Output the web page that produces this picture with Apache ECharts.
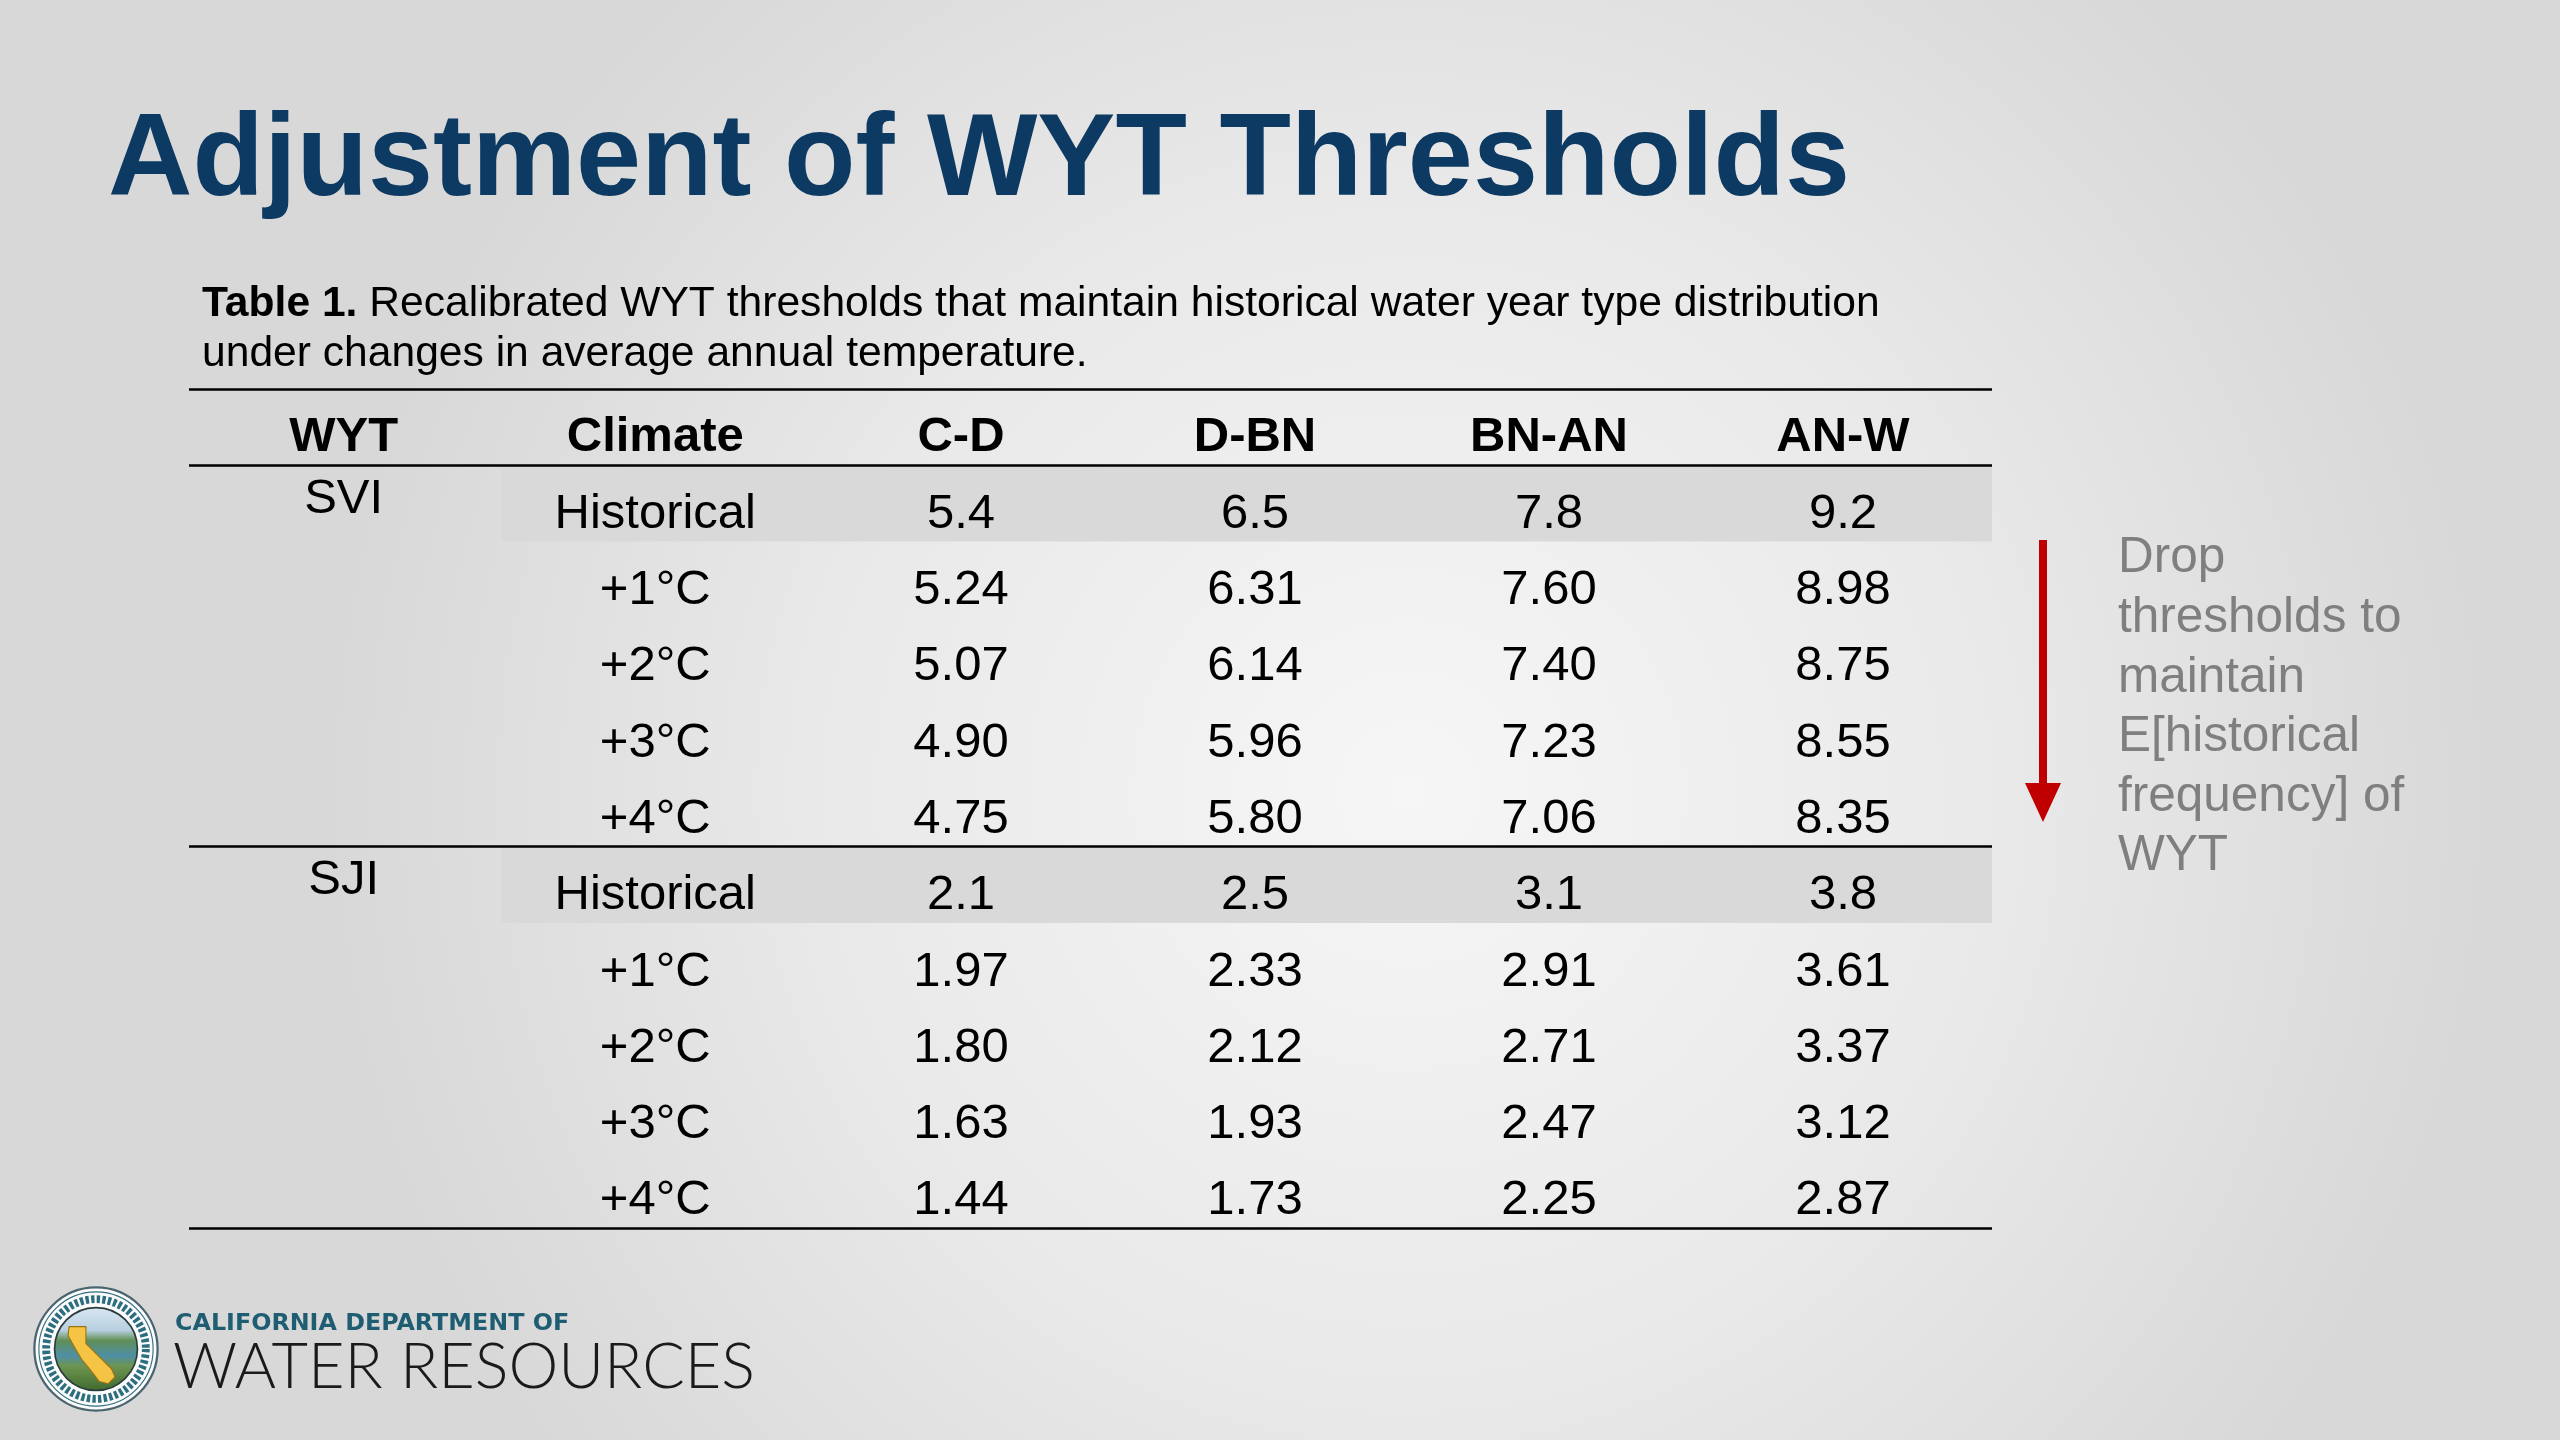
<!DOCTYPE html>
<html>
<head>
<meta charset="utf-8">
<title>Adjustment of WYT Thresholds</title>
<script src="https://cdn.jsdelivr.net/npm/echarts@6.0.0/dist/echarts.min.js"></script>
<style>
  html, body { margin: 0; padding: 0; background: #e8e8e8; }
  #main { width: 2560px; height: 1440px; }
</style>
</head>
<body>
<div id="main"></div>
<script>
// table content
var columns = ['WYT', 'Climate', 'C-D', 'D-BN', 'BN-AN', 'AN-W'];
var indices = ['SVI', 'SJI'];
var climates = ['Historical', '+1°C', '+2°C', '+3°C', '+4°C'];
var sviThresholds = [
    ['5.4', '6.5', '7.8', '9.2'],
    ['5.24', '6.31', '7.60', '8.98'],
    ['5.07', '6.14', '7.40', '8.75'],
    ['4.90', '5.96', '7.23', '8.55'],
    ['4.75', '5.80', '7.06', '8.35']
];
var sjiThresholds = [
    ['2.1', '2.5', '3.1', '3.8'],
    ['1.97', '2.33', '2.91', '3.61'],
    ['1.80', '2.12', '2.71', '3.37'],
    ['1.63', '1.93', '2.47', '3.12'],
    ['1.44', '1.73', '2.25', '2.87']
];
var noteLines = ['Drop', 'thresholds to', 'maintain', 'E[historical', 'frequency] of', 'WYT'];

var FONT = "'Liberation Sans', Arial, sans-serif";
var tables = [sviThresholds, sjiThresholds];

// the first two columns sit a bit left of an even grid
var colShift = [-0.1, -0.04, 0, 0, 0, 0];
var bandStart = 0.935;

// build the cells: header row 0, then 5 rows per index
var cells = [];
var i, g, r, j;
for (i = 0; i < columns.length; i++) {
    cells.push({ col: i + 0.5 + colShift[i], row: 0.5, text: columns[i], bold: true, dy: 10 });
}
for (g = 0; g < indices.length; g++) {
    var base = 1 + g * climates.length;
    cells.push({ col: 0.5 + colShift[0], row: base + 0.5, text: indices[g], bold: false, dy: -4 });
    for (r = 0; r < climates.length; r++) {
        cells.push({ col: 1.5 + colShift[1], row: base + r + 0.5, text: climates[r], bold: false, dy: 11 });
        for (j = 0; j < tables[g][r].length; j++) {
            cells.push({ col: 2.5 + j + colShift[2 + j], row: base + r + 0.5, text: tables[g][r][j], bold: false, dy: 11 });
        }
    }
}
// shaded "Historical" rows
var bandRows = [];
for (g = 0; g < indices.length; g++) {
    bandRows.push([bandStart, 1 + g * climates.length]);
}
// horizontal rules: top, under header, between indices, bottom
var rules = [0, 1];
for (g = 1; g <= indices.length; g++) {
    rules.push(1 + g * climates.length);
}

var chart = echarts.init(document.getElementById('main'));

var option = {
    backgroundColor: 'transparent',
    animation: false,
    title: {
        text: 'Adjustment of WYT Thresholds',
        left: 103,
        top: 99,
        textStyle: {
            fontFamily: FONT,
            fontSize: 117,
            fontWeight: 'bold',
            lineHeight: 117,
            color: '#0c3a62'
        }
    },
    grid: {
        left: 189,
        right: 568,
        top: 389,
        bottom: 212
    },
    xAxis: {
        type: 'value',
        min: -0.126,
        max: 6.007,
        show: false
    },
    yAxis: {
        type: 'value',
        min: 0,
        max: 1 + indices.length * climates.length,
        inverse: true,
        show: false
    },
    graphic: [
        {
            type: 'rect',
            z: -10,
            silent: true,
            shape: { x: 0, y: 0, width: 2560, height: 1440 },
            style: {
                fill: {
                    type: 'radial', x: 0.55, y: 0.55, r: 0.75,
                    colorStops: [
                        { offset: 0, color: '#f6f6f6' },
                        { offset: 0.55, color: '#e9e9e9' },
                        { offset: 1, color: '#d8d8d8' }
                    ]
                }
            }
        },
        {
            type: 'text',
            left: 202,
            top: 279,
            style: {
                text: '{b|Table 1.} Recalibrated WYT thresholds that maintain historical water year type distribution\nunder changes in average annual temperature.',
                fontFamily: FONT,
                fontSize: 42.6,
                lineHeight: 50,
                fill: '#000',
                rich: {
                    b: { fontFamily: FONT, fontSize: 42.6, fontWeight: 'bold', lineHeight: 50, fill: '#000' }
                }
            }
        },
        // red arrow
        {
            type: 'rect',
            shape: { x: 2039, y: 540, width: 8, height: 246 },
            style: { fill: '#c00000' }
        },
        {
            type: 'polygon',
            shape: { points: [[2025, 783], [2061, 783], [2043, 822]] },
            style: { fill: '#c00000' }
        },
        {
            type: 'text',
            x: 2118,
            y: 529,
            style: {
                text: noteLines.join('\n'),
                fontFamily: FONT,
                fontSize: 49.5,
                lineHeight: 59.6,
                fill: '#7f7f7f',
                align: 'left',
                verticalAlign: 'top'
            }
        },
        // DWR logo
        {
            type: 'group',
            x: 96,
            y: 1349,
            scaleX: 1.12,
            scaleY: 1.12,
            children: [
                { type: 'circle', shape: { r: 55 }, style: { fill: '#fbfbfb', stroke: '#4a6470', lineWidth: 2 } },
                { type: 'circle', shape: { r: 51 }, style: { fill: null, stroke: '#2f6f80', lineWidth: 1 } },
                { type: 'circle', shape: { r: 44.5 }, style: { fill: null, stroke: '#2c6e80', lineWidth: 7, lineDash: [3, 2] } },
                {
                    type: 'circle', shape: { r: 37 },
                    style: {
                        stroke: '#2a3b3b', lineWidth: 1.5,
                        fill: {
                            type: 'linear', x: 0, y: 0, x2: 0, y2: 1,
                            colorStops: [
                                { offset: 0, color: '#d9e8f2' },
                                { offset: 0.28, color: '#b7cfdf' },
                                { offset: 0.4, color: '#5f8f56' },
                                { offset: 0.58, color: '#4e8fa6' },
                                { offset: 0.7, color: '#6d9450' },
                                { offset: 1, color: '#3f6a2e' }
                            ]
                        }
                    }
                },
                {
                    type: 'polygon',
                    shape: { points: [[-24, -20], [-9, -20], [-9, -5], [14, 18], [17, 25], [11, 31], [3, 29], [-4, 20], [-13, 9], [-20, -3], [-25, -12]] },
                    style: { fill: '#f6c445', stroke: '#9b7412', lineWidth: 1 }
                }
            ]
        },
        {
            type: 'text',
            x: 175,
            y: 1324,
            style: {
                text: 'CALIFORNIA DEPARTMENT OF',
                fontFamily: "'DejaVu Sans', sans-serif",
                fontSize: 23.8,
                fontWeight: 'bold',
                fill: '#1f5e72',
                align: 'left',
                verticalAlign: 'middle'
            }
        },
        {
            type: 'text',
            x: 173,
            y: 1368,
            style: {
                text: 'WATER RESOURCES',
                fontFamily: 'Lato, sans-serif',
                fontSize: 63,
                fontWeight: 300,
                fill: '#1a1a1a',
                align: 'left',
                verticalAlign: 'middle'
            }
        }
    ],
    series: [
        {
            type: 'custom',
            name: 'bands',
            z: 1,
            silent: true,
            data: bandRows,
            renderItem: function (params, api) {
                var p0 = api.coord([api.value(0), api.value(1)]);
                var p1 = api.coord([6.007, api.value(1) + 1]);
                return {
                    type: 'rect',
                    shape: { x: p0[0], y: p0[1], width: p1[0] - p0[0], height: p1[1] - p0[1] },
                    style: { fill: '#d9d9d9' }
                };
            }
        },
        {
            type: 'custom',
            name: 'cells',
            z: 3,
            silent: true,
            data: cells.map(function (c) { return [c.col, c.row]; }),
            renderItem: function (params, api) {
                var cell = cells[params.dataIndex];
                var p = api.coord([api.value(0), api.value(1)]);
                return {
                    type: 'text',
                    x: p[0],
                    y: p[1] + cell.dy,
                    style: {
                        text: cell.text,
                        fontFamily: FONT,
                        fontSize: 49,
                        fontWeight: cell.bold ? 'bold' : 'normal',
                        fill: '#000',
                        align: 'center',
                        verticalAlign: 'middle'
                    }
                };
            },
            markLine: {
                silent: true,
                symbol: 'none',
                label: { show: false },
                lineStyle: { color: '#000', width: 2.5, type: 'solid' },
                data: rules.map(function (v) { return { yAxis: v }; })
            }
        }
    ]
};

chart.setOption(option);
</script>
</body>
</html>
